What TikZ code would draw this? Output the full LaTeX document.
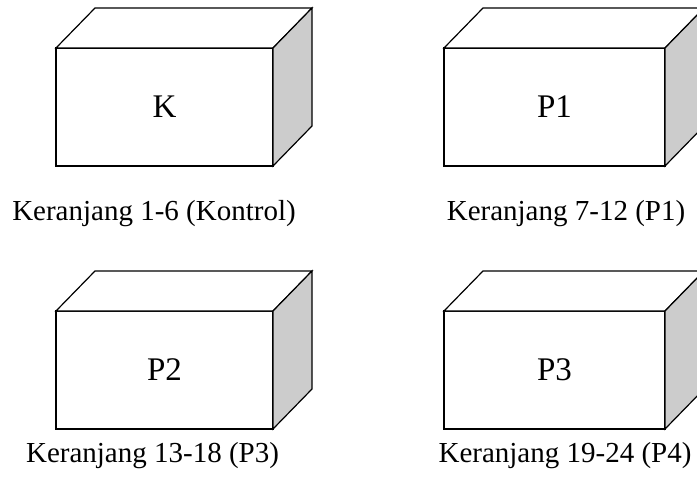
\documentclass[tikz,border=0pt]{standalone}
\usepackage{fontspec}
\setmainfont{Liberation Serif}
\definecolor{sidegray}{RGB}{204,204,204}
\begin{document}
\begin{tikzpicture}[x=1pt,y=-1pt,
  front/.style={draw=black,line width=1.2pt,fill=white,minimum height=118pt,
    inner sep=0pt,outer sep=0pt,font=\fontsize{33}{39}\selectfont},
  face/.style={draw=black,line width=1.2pt,line join=miter},
  lbl/.style={anchor=base,inner sep=0pt,font=\fontsize{29}{35}\selectfont},
  back/.style={shift={(39,-40)}}]
\useasboundingbox (0,0) rectangle (697,487);
\clip (0,0) rectangle (697,487);
\node[front,minimum width=217pt] (k)  at (164.5,107) {K};
\node[front,minimum width=221pt] (p1) at (554.5,107) {P1};
\node[front,minimum width=217pt] (p2) at (164.5,370) {P2};
\node[front,minimum width=221pt] (p3) at (554.5,370) {P3};
\foreach \b in {k,p1,p2,p3}{
  \draw[face,fill=white] (\b.north west) -- ([back]\b.north west)
     -- ([back]\b.north east) -- (\b.north east) -- cycle;
  \draw[face,fill=sidegray] (\b.north east) -- ([back]\b.north east)
     -- ([back]\b.south east) -- (\b.south east) -- cycle;
}
\node[lbl] (lk)  at (154,220) {Keranjang 1-6 (Kontrol)};
\node[lbl] (lp1) at (566,220) {Keranjang 7-12 (P1)};
\node[lbl] (lp2) at (152.5,462) {Keranjang 13-18 (P3)};
\node[lbl] (lp3) at (565,462) {Keranjang 19-24 (P4)};
\end{tikzpicture}
\end{document}
